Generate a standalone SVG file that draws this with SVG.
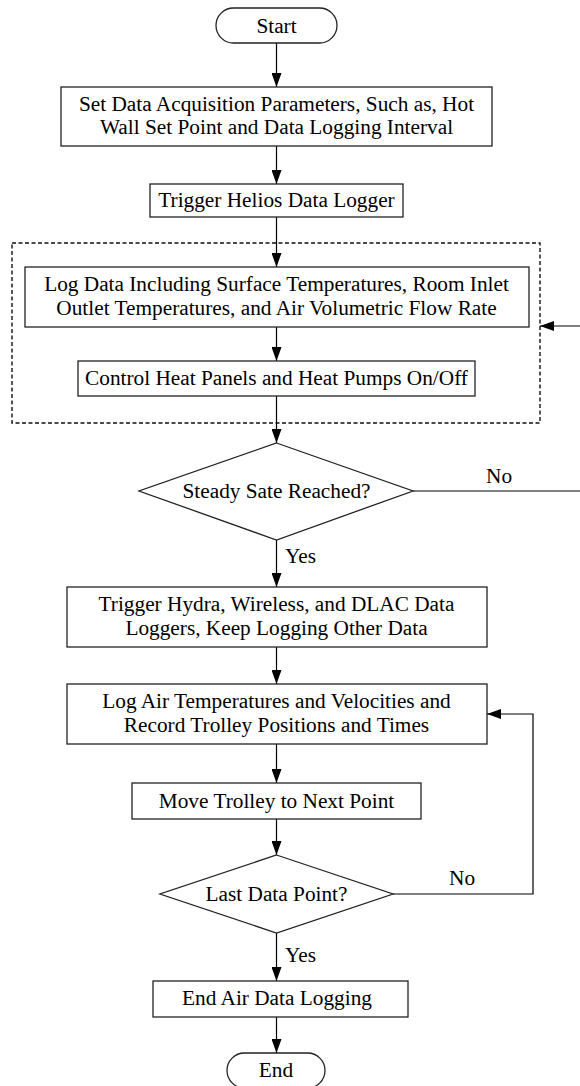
<svg xmlns="http://www.w3.org/2000/svg" width="580" height="1086" viewBox="0 0 580 1086">
<style>
.box{fill:#fff;stroke:#222;stroke-width:1.3}
.dash{fill:none;stroke:#111;stroke-width:1.4;stroke-dasharray:4,2.5}
.t{font-family:"Liberation Serif","Times New Roman",serif;font-size:21.3px;fill:#000;text-anchor:middle}
.lbl{font-family:"Liberation Serif","Times New Roman",serif;font-size:21.3px;fill:#000}
.c{fill:none;stroke:#000;stroke-width:1.2}
</style>
<defs>
<marker id="ah" markerUnits="userSpaceOnUse" markerWidth="14" markerHeight="10" refX="14" refY="5" orient="auto">
<path d="M0,0 L14,5 L0,10 z" fill="#000"/>
</marker>
</defs>
<rect id="group" class="dash" x="12" y="243" width="528" height="180"/>
<g id="connectors">
<line class="c" x1="276.5" y1="43" x2="276.5" y2="87" marker-end="url(#ah)"/>
<line class="c" x1="276.5" y1="146" x2="276.5" y2="184" marker-end="url(#ah)"/>
<line class="c" x1="276.5" y1="217" x2="276.5" y2="267" marker-end="url(#ah)"/>
<line class="c" x1="276.5" y1="327" x2="276.5" y2="361" marker-end="url(#ah)"/>
<line class="c" x1="276.5" y1="396" x2="276.5" y2="443" marker-end="url(#ah)"/>
<path class="c" d="M413,491 H600 V326 H540" marker-end="url(#ah)"/>
<line class="c" x1="276.5" y1="540" x2="276.5" y2="587" marker-end="url(#ah)"/>
<line class="c" x1="276.5" y1="647" x2="276.5" y2="684" marker-end="url(#ah)"/>
<line class="c" x1="276.5" y1="744" x2="276.5" y2="783" marker-end="url(#ah)"/>
<line class="c" x1="276.5" y1="819" x2="276.5" y2="855" marker-end="url(#ah)"/>
<path class="c" d="M393,894 H533 V714 H487" marker-end="url(#ah)"/>
<line class="c" x1="276.5" y1="933" x2="276.5" y2="981" marker-end="url(#ah)"/>
<line class="c" x1="276.5" y1="1017" x2="276.5" y2="1053" marker-end="url(#ah)"/>
<text class="lbl" x="486" y="483">No</text>
<text class="lbl" x="285" y="563">Yes</text>
<text class="lbl" x="449" y="885">No</text>
<text class="lbl" x="285" y="962">Yes</text>
</g>
<g id="start">
<rect class="box" x="216" y="8" width="121" height="35" rx="17.5"/>
<text class="t" x="276.5" y="33">Start</text>
</g>
<g id="setParams">
<rect class="box" x="61" y="87" width="431" height="59"/>
<text class="t" x="276.5" y="111">Set Data Acquisition Parameters, Such as, Hot</text>
<text class="t" x="276.5" y="134">Wall Set Point and Data Logging Interval</text>
</g>
<g id="triggerHelios">
<rect class="box" x="150" y="184" width="253" height="33"/>
<text class="t" x="276.5" y="207">Trigger Helios Data Logger</text>
</g>
<g id="logData">
<rect class="box" x="25" y="267" width="504" height="60"/>
<text class="t" x="276.5" y="291">Log Data Including Surface Temperatures, Room Inlet</text>
<text class="t" x="276.5" y="315">Outlet Temperatures, and Air Volumetric Flow Rate</text>
</g>
<g id="controlHeat">
<rect class="box" x="78" y="361" width="397" height="35"/>
<text class="t" x="276.5" y="385">Control Heat Panels and Heat Pumps On/Off</text>
</g>
<g id="steadyState">
<polygon class="box" points="276.5,443 413,491 276.5,540 139,491"/>
<text class="t" x="276.5" y="498">Steady Sate Reached?</text>
</g>
<g id="triggerHydra">
<rect class="box" x="67" y="587" width="420" height="60"/>
<text class="t" x="276.5" y="611">Trigger Hydra, Wireless, and DLAC Data</text>
<text class="t" x="276.5" y="635">Loggers, Keep Logging Other Data</text>
</g>
<g id="logAir">
<rect class="box" x="67" y="684" width="420" height="60"/>
<text class="t" x="276.5" y="708">Log Air Temperatures and Velocities and</text>
<text class="t" x="276.5" y="732">Record Trolley Positions and Times</text>
</g>
<g id="moveTrolley">
<rect class="box" x="132" y="783" width="289" height="36"/>
<text class="t" x="276.5" y="808">Move Trolley to Next Point</text>
</g>
<g id="lastPoint">
<polygon class="box" points="276.5,855 393,894 276.5,933 160,894"/>
<text class="t" x="276.5" y="901">Last Data Point?</text>
</g>
<g id="endLogging">
<rect class="box" x="153" y="981" width="255" height="36"/>
<text class="t" x="277" y="1005">End Air Data Logging</text>
</g>
<g id="end">
<rect class="box" x="227" y="1053" width="98" height="35" rx="17.5"/>
<text class="t" x="276" y="1077">End</text>
</g>
</svg>
